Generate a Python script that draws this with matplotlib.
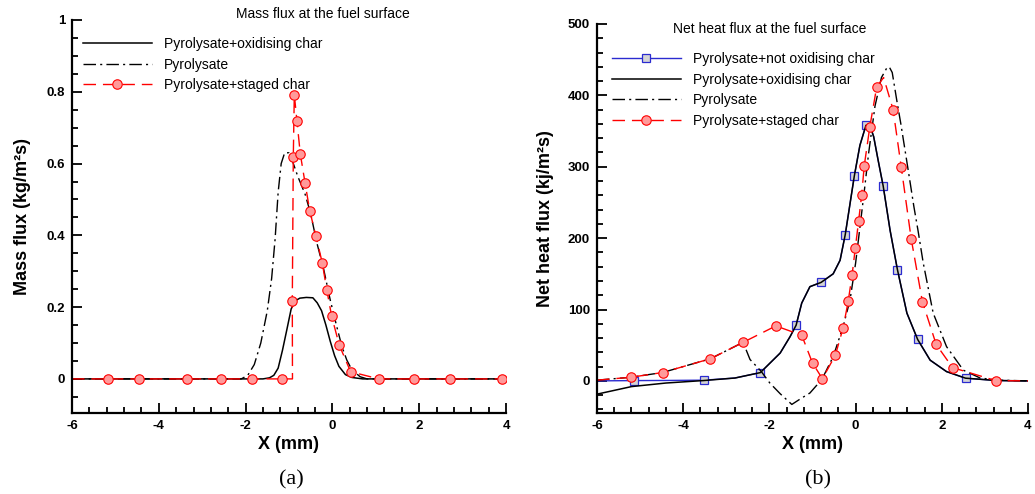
import matplotlib
matplotlib.use("Agg")
import matplotlib.pyplot as plt
from matplotlib.ticker import MultipleLocator, FuncFormatter

plt.rcParams['font.family'] = ['Liberation Sans', 'DejaVu Sans']
plt.rcParams['axes.unicode_minus'] = False

# (a) mass flux at the fuel surface
xa_ox = [-6.0, -1.6, -1.45, -1.35, -1.25, -1.15, -1.05, -0.95, -0.85, -0.75,
         -0.6, -0.45, -0.35, -0.25, -0.15, -0.05, 0.05, 0.15, 0.3, 0.45, 0.7, 4.0]
ya_ox = [0, 0, 0.003, 0.01, 0.03, 0.08, 0.137, 0.195, 0.218, 0.225,
         0.227, 0.226, 0.212, 0.19, 0.15, 0.105, 0.065, 0.035, 0.012, 0.004, 0, 0]

xa_py = [-6.0, -2.1, -1.95, -1.8, -1.65, -1.5, -1.4, -1.32, -1.25, -1.18, -1.1,
         -1.0, -0.9, -0.8, -0.63, -0.5, -0.36, -0.2, -0.05, 0.1, 0.22, 0.33,
         0.45, 0.64, 0.8, 4.0]
ya_py = [0, 0, 0.01, 0.04, 0.1, 0.19, 0.28, 0.39, 0.52, 0.6, 0.63,
         0.63, 0.6, 0.565, 0.515, 0.46, 0.38, 0.305, 0.22, 0.146, 0.09, 0.053,
         0.025, 0.006, 0, 0]

xa_st = [-6.0, -5.18, -4.46, -3.35, -2.57, -1.85, -1.17, -0.92, -0.924, -0.901,
         -0.878, -0.816, -0.74, -0.63, -0.523, -0.378, -0.233, -0.131, -0.016,
         0.159, 0.42, 1.07, 1.87, 2.70, 3.91, 4.0]
ya_st = [0, 0, 0, 0, 0, 0, 0, 0, 0.217, 0.618,
         0.792, 0.718, 0.627, 0.546, 0.469, 0.397, 0.323, 0.249, 0.174,
         0.094, 0.020, 0, 0, 0, 0, 0]
mark_a_st = [1, 2, 3, 4, 5, 6, 8, 9, 10, 11, 12, 13, 14, 15, 16, 17, 18,
             19, 20, 21, 22, 23, 24]

# (b) net heat flux at the fuel surface
xb_no = [-6.0, -5.13, -4.4, -3.52, -2.8, -2.21, -1.75, -1.52, -1.38, -1.25,
         -1.06, -0.80, -0.52, -0.36, -0.24, -0.03, 0.1, 0.24, 0.32, 0.42, 0.52,
         0.64, 0.80, 0.97, 1.19, 1.44, 1.73, 2.11, 2.55, 3.27, 4.0]
yb_no = [0, 0.4, 0.6, 1, 4, 11.6, 39, 62, 78, 109,
         132, 138, 150, 169, 205, 287, 330, 358, 360, 342, 310,
         273, 211, 156, 95, 58, 29, 13, 3.8, 0.5, 0]
mark_b_no = [1, 3, 5, 8, 11, 14, 15, 17, 21, 23, 25, 28]

xb_ox = [-6.0, -5.2, -4.4, -3.52, -2.8, -2.21, -1.75, -1.52, -1.38, -1.25,
         -1.06, -0.80, -0.52, -0.36, -0.24, -0.03, 0.1, 0.24, 0.32, 0.42, 0.52,
         0.64, 0.80, 0.97, 1.19, 1.44, 1.73, 2.11, 2.55, 3.27, 4.0]
yb_ox = [-18.6, -8, -3, 0.5, 4, 11.6, 39, 62, 78, 109,
         132, 138, 150, 169, 205, 287, 330, 358, 360, 342, 310,
         273, 211, 156, 95, 58, 29, 13, 3.8, 0.5, 0]

xb_py = [-6.0, -5.21, -4.48, -3.37, -2.61, -2.45, -2.2, -1.99, -1.75, -1.48,
         -1.25, -1.06, -0.9, -0.75, -0.52, -0.29, -0.13, 0.0, 0.1, 0.2, 0.3,
         0.45, 0.6, 0.72, 0.78, 0.85, 0.95, 1.05, 1.15, 1.26, 1.35, 1.45, 1.57,
         1.8, 2.11, 2.5, 2.89, 3.3, 4.0]
yb_py = [1, 5.1, 11.7, 31, 54, 30, 14, -3, -18, -33,
         -24, -17, -6, 6, 34, 76, 113, 165, 215, 265, 318,
         385, 425, 438, 440, 432, 395, 360, 322, 280, 245, 210, 165,
         95, 48, 15, 4, 1, 0]

xb_st = [-6.0, -5.21, -4.48, -3.37, -2.61, -1.85, -1.25, -1.0, -0.77, -0.47,
         -0.29, -0.17, -0.08, -0.007, 0.07, 0.14, 0.20, 0.33, 0.49, 0.65, 0.87,
         1.06, 1.29, 1.55, 1.87, 2.25, 3.25, 4.0]
yb_st = [1, 5.1, 11.7, 31, 54, 77, 64, 25, 3, 36,
         74, 112, 149, 186, 224, 260, 301, 356, 412, 425, 380,
         299, 199, 111, 51, 18.6, 0.4, 0]
mark_b_st = [1, 2, 3, 4, 5, 6, 7, 8, 9, 10, 11, 12, 13, 14, 15, 16, 17, 18,
             20, 21, 22, 23, 24, 25, 26]

W, H = 1035, 494
fig = plt.figure(figsize=(W / 100, H / 100), dpi=100)
ax1 = fig.add_axes([72 / W, 1 - 413 / H, 434 / W, 393 / H])
ax2 = fig.add_axes([597 / W, 1 - 413 / H, 431 / W, 389 / H])

dash = (0, (9, 5))
dashdot = (0, (9, 3, 1.5, 3))
red_kw = dict(color='red', lw=1.0, ls=dash, marker='o', ms=6.8,
              mfc='#ff9a9a', mec='red', mew=0.8)

ax1.plot(xa_ox, ya_ox, color='black', lw=1.1,
         label='Pyrolysate+oxidising char')
ax1.plot(xa_py, ya_py, color='black', lw=1.0, ls=dashdot, label='Pyrolysate')
ax1.plot(xa_st, ya_st, markevery=mark_a_st, label='Pyrolysate+staged char',
         **red_kw)

ax2.plot(xb_no, yb_no, color='#2b2bd0', lw=1.0, marker='s', ms=5.5,
         mfc='#d4d4d4', mec='#2b2bd0', mew=0.9, markevery=mark_b_no,
         label='Pyrolysate+not oxidising char')
ax2.plot(xb_ox, yb_ox, color='black', lw=1.1,
         label='Pyrolysate+oxidising char')
ax2.plot(xb_py, yb_py, color='black', lw=1.0, ls=dashdot, label='Pyrolysate')
ax2.plot(xb_st, yb_st, markevery=mark_b_st, label='Pyrolysate+staged char',
         **red_kw)

fmt = FuncFormatter(lambda v, p: '%g' % v)
for ax in (ax1, ax2):
    ax.set_xlim(-6, 4)
    ax.xaxis.set_major_locator(MultipleLocator(2))
    ax.xaxis.set_minor_locator(MultipleLocator(0.4))
    ax.spines['top'].set_visible(False)
    ax.spines['right'].set_visible(False)
    for s in ('left', 'bottom'):
        ax.spines[s].set_linewidth(1.6)
    ax.tick_params(which='both', direction='in', width=1.3)
    ax.tick_params(which='major', length=7, pad=5)
    ax.tick_params(which='minor', length=4)
    ax.xaxis.set_major_formatter(fmt)
    ax.yaxis.set_major_formatter(fmt)
    for lab in ax.get_xticklabels() + ax.get_yticklabels():
        lab.set_fontweight('bold')
        lab.set_fontsize(9.5)
    ax.set_xlabel('X (mm)', fontsize=13, fontweight='bold')
    ax.xaxis.set_label_coords(0.5, -0.058)

ax1.set_ylim(-0.095, 1)
ax1.yaxis.set_major_locator(MultipleLocator(0.2))
ax1.yaxis.set_minor_locator(MultipleLocator(0.05))
ax1.set_ylabel('Mass flux (kg/m²s)', fontsize=13, fontweight='bold')
ax1.yaxis.set_label_coords(-0.094, 0.5)

ax2.set_ylim(-45, 500)
ax2.yaxis.set_major_locator(MultipleLocator(100))
ax2.yaxis.set_minor_locator(MultipleLocator(20))
ax2.set_ylabel('Net heat flux (kj/m²s)', fontsize=13, fontweight='bold')
ax2.yaxis.set_label_coords(-0.10, 0.5)

leg_kw = dict(loc='upper left', bbox_transform=fig.transFigure, frameon=False,
              borderpad=0, borderaxespad=0, handlelength=4.95,
              handletextpad=0.85, labelspacing=0.47, fontsize=10)
ax1.legend(bbox_to_anchor=(83 / W, 1 - 37 / H), **leg_kw)
ax2.legend(bbox_to_anchor=(612 / W, 1 - 52 / H), **leg_kw)

fig.text(323 / W, 1 - 14 / H, 'Mass flux at the fuel surface',
         ha='center', va='center', fontsize=10)
fig.text(770 / W, 1 - 29 / H, 'Net heat flux at the fuel surface',
         ha='center', va='center', fontsize=10)
fig.text(291 / W, 1 - 480 / H, '(a)', ha='center', va='center',
         fontsize=16, family='Liberation Serif')
fig.text(818 / W, 1 - 480 / H, '(b)', ha='center', va='center',
         fontsize=16, family='Liberation Serif')

fig.savefig('out.png', dpi=100)
